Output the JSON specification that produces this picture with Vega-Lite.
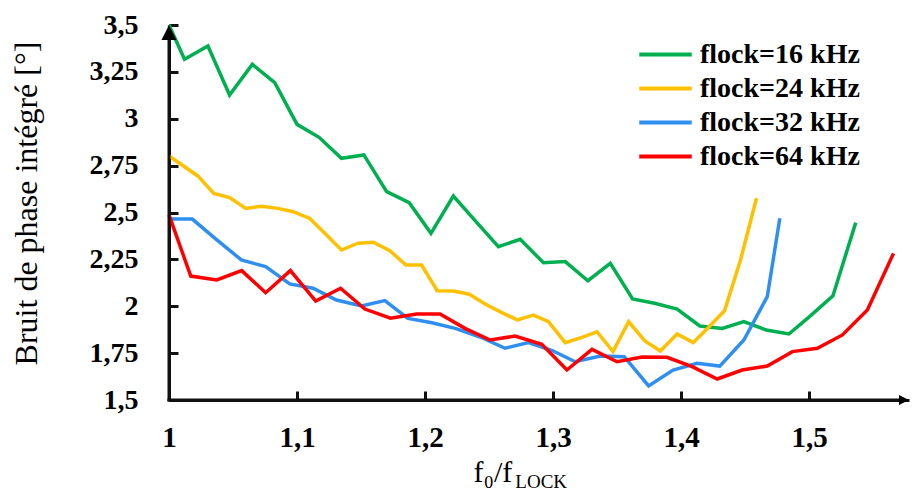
{
  "$schema": "https://vega.github.io/schema/vega-lite/v6.json",
  "width": 740,
  "height": 375,
  "autosize": {"type": "none"},
  "padding": {"left": 169, "top": 25, "right": 4, "bottom": 93},
  "background": "white",
  "config": {
    "view": {"stroke": null},
    "axis": {
      "grid": false,
      "labelFlush": false,
      "labelFont": "Liberation Serif",
      "labelFontWeight": "bold",
      "labelColor": "black",
      "titleFont": "Liberation Serif",
      "titleFontWeight": "normal",
      "titleColor": "black",
      "domain": true,
      "domainColor": "#111111",
      "domainWidth": 3,
      "ticks": true,
      "tickColor": "#111111",
      "tickWidth": 3,
      "tickSize": -9
    }
  },
  "datasets": {
    "series": [
      {"x": 1.000, "y": 3.500, "s": "flock=16 kHz"},
      {"x": 1.0121, "y": 3.317, "s": "flock=16 kHz"},
      {"x": 1.0304, "y": 3.388, "s": "flock=16 kHz"},
      {"x": 1.0473, "y": 3.127, "s": "flock=16 kHz"},
      {"x": 1.0651, "y": 3.290, "s": "flock=16 kHz"},
      {"x": 1.0826, "y": 3.192, "s": "flock=16 kHz"},
      {"x": 1.1000, "y": 2.970, "s": "flock=16 kHz"},
      {"x": 1.1172, "y": 2.901, "s": "flock=16 kHz"},
      {"x": 1.1347, "y": 2.789, "s": "flock=16 kHz"},
      {"x": 1.1522, "y": 2.807, "s": "flock=16 kHz"},
      {"x": 1.1700, "y": 2.611, "s": "flock=16 kHz"},
      {"x": 1.1876, "y": 2.552, "s": "flock=16 kHz"},
      {"x": 1.2046, "y": 2.389, "s": "flock=16 kHz"},
      {"x": 1.2221, "y": 2.588, "s": "flock=16 kHz"},
      {"x": 1.2398, "y": 2.451, "s": "flock=16 kHz"},
      {"x": 1.2573, "y": 2.318, "s": "flock=16 kHz"},
      {"x": 1.2743, "y": 2.357, "s": "flock=16 kHz"},
      {"x": 1.2925, "y": 2.232, "s": "flock=16 kHz"},
      {"x": 1.3095, "y": 2.238, "s": "flock=16 kHz"},
      {"x": 1.3272, "y": 2.136, "s": "flock=16 kHz"},
      {"x": 1.3447, "y": 2.229, "s": "flock=16 kHz"},
      {"x": 1.3621, "y": 2.039, "s": "flock=16 kHz"},
      {"x": 1.3793, "y": 2.016, "s": "flock=16 kHz"},
      {"x": 1.3969, "y": 1.985, "s": "flock=16 kHz"},
      {"x": 1.4146, "y": 1.895, "s": "flock=16 kHz"},
      {"x": 1.4321, "y": 1.882, "s": "flock=16 kHz"},
      {"x": 1.4490, "y": 1.918, "s": "flock=16 kHz"},
      {"x": 1.4665, "y": 1.873, "s": "flock=16 kHz"},
      {"x": 1.4842, "y": 1.852, "s": "flock=16 kHz"},
      {"x": 1.5012, "y": 1.950, "s": "flock=16 kHz"},
      {"x": 1.5186, "y": 2.056, "s": "flock=16 kHz"},
      {"x": 1.5364, "y": 2.446, "s": "flock=16 kHz"},

      {"x": 1.000, "y": 2.801, "s": "flock=24 kHz"},
      {"x": 1.0225, "y": 2.695, "s": "flock=24 kHz"},
      {"x": 1.0350, "y": 2.602, "s": "flock=24 kHz"},
      {"x": 1.0473, "y": 2.580, "s": "flock=24 kHz"},
      {"x": 1.0600, "y": 2.522, "s": "flock=24 kHz"},
      {"x": 1.0721, "y": 2.533, "s": "flock=24 kHz"},
      {"x": 1.0851, "y": 2.522, "s": "flock=24 kHz"},
      {"x": 1.0969, "y": 2.504, "s": "flock=24 kHz"},
      {"x": 1.1100, "y": 2.468, "s": "flock=24 kHz"},
      {"x": 1.1217, "y": 2.389, "s": "flock=24 kHz"},
      {"x": 1.1347, "y": 2.300, "s": "flock=24 kHz"},
      {"x": 1.1477, "y": 2.336, "s": "flock=24 kHz"},
      {"x": 1.1595, "y": 2.341, "s": "flock=24 kHz"},
      {"x": 1.1725, "y": 2.296, "s": "flock=24 kHz"},
      {"x": 1.1851, "y": 2.220, "s": "flock=24 kHz"},
      {"x": 1.1973, "y": 2.220, "s": "flock=24 kHz"},
      {"x": 1.2095, "y": 2.083, "s": "flock=24 kHz"},
      {"x": 1.2221, "y": 2.081, "s": "flock=24 kHz"},
      {"x": 1.2346, "y": 2.064, "s": "flock=24 kHz"},
      {"x": 1.2469, "y": 2.012, "s": "flock=24 kHz"},
      {"x": 1.2600, "y": 1.966, "s": "flock=24 kHz"},
      {"x": 1.2721, "y": 1.927, "s": "flock=24 kHz"},
      {"x": 1.2847, "y": 1.953, "s": "flock=24 kHz"},
      {"x": 1.2964, "y": 1.918, "s": "flock=24 kHz"},
      {"x": 1.3095, "y": 1.806, "s": "flock=24 kHz"},
      {"x": 1.3225, "y": 1.834, "s": "flock=24 kHz"},
      {"x": 1.3343, "y": 1.864, "s": "flock=24 kHz"},
      {"x": 1.3468, "y": 1.758, "s": "flock=24 kHz"},
      {"x": 1.3590, "y": 1.918, "s": "flock=24 kHz"},
      {"x": 1.3717, "y": 1.815, "s": "flock=24 kHz"},
      {"x": 1.3838, "y": 1.761, "s": "flock=24 kHz"},
      {"x": 1.3969, "y": 1.852, "s": "flock=24 kHz"},
      {"x": 1.4094, "y": 1.806, "s": "flock=24 kHz"},
      {"x": 1.4219, "y": 1.891, "s": "flock=24 kHz"},
      {"x": 1.4339, "y": 1.976, "s": "flock=24 kHz"},
      {"x": 1.4464, "y": 2.247, "s": "flock=24 kHz"},
      {"x": 1.4589, "y": 2.576, "s": "flock=24 kHz"},

      {"x": 1.000, "y": 2.465, "s": "flock=32 kHz"},
      {"x": 1.0182, "y": 2.465, "s": "flock=32 kHz"},
      {"x": 1.0369, "y": 2.357, "s": "flock=32 kHz"},
      {"x": 1.0565, "y": 2.247, "s": "flock=32 kHz"},
      {"x": 1.0755, "y": 2.211, "s": "flock=32 kHz"},
      {"x": 1.0943, "y": 2.119, "s": "flock=32 kHz"},
      {"x": 1.1125, "y": 2.096, "s": "flock=32 kHz"},
      {"x": 1.1308, "y": 2.033, "s": "flock=32 kHz"},
      {"x": 1.1504, "y": 2.001, "s": "flock=32 kHz"},
      {"x": 1.1686, "y": 2.030, "s": "flock=32 kHz"},
      {"x": 1.1866, "y": 1.935, "s": "flock=32 kHz"},
      {"x": 1.2054, "y": 1.912, "s": "flock=32 kHz"},
      {"x": 1.2242, "y": 1.881, "s": "flock=32 kHz"},
      {"x": 1.2430, "y": 1.836, "s": "flock=32 kHz"},
      {"x": 1.2625, "y": 1.776, "s": "flock=32 kHz"},
      {"x": 1.2808, "y": 1.806, "s": "flock=32 kHz"},
      {"x": 1.2993, "y": 1.764, "s": "flock=32 kHz"},
      {"x": 1.3173, "y": 1.704, "s": "flock=32 kHz"},
      {"x": 1.3369, "y": 1.735, "s": "flock=32 kHz"},
      {"x": 1.3556, "y": 1.731, "s": "flock=32 kHz"},
      {"x": 1.3746, "y": 1.575, "s": "flock=32 kHz"},
      {"x": 1.3937, "y": 1.660, "s": "flock=32 kHz"},
      {"x": 1.4125, "y": 1.696, "s": "flock=32 kHz"},
      {"x": 1.4302, "y": 1.681, "s": "flock=32 kHz"},
      {"x": 1.4490, "y": 1.820, "s": "flock=32 kHz"},
      {"x": 1.4673, "y": 2.051, "s": "flock=32 kHz"},
      {"x": 1.4771, "y": 2.469, "s": "flock=32 kHz"},

      {"x": 1.000, "y": 2.487, "s": "flock=64 kHz"},
      {"x": 1.0170, "y": 2.161, "s": "flock=64 kHz"},
      {"x": 1.0373, "y": 2.140, "s": "flock=64 kHz"},
      {"x": 1.0568, "y": 2.190, "s": "flock=64 kHz"},
      {"x": 1.0755, "y": 2.072, "s": "flock=64 kHz"},
      {"x": 1.0948, "y": 2.190, "s": "flock=64 kHz"},
      {"x": 1.1146, "y": 2.028, "s": "flock=64 kHz"},
      {"x": 1.1340, "y": 2.096, "s": "flock=64 kHz"},
      {"x": 1.1530, "y": 1.985, "s": "flock=64 kHz"},
      {"x": 1.1730, "y": 1.936, "s": "flock=64 kHz"},
      {"x": 1.1934, "y": 1.959, "s": "flock=64 kHz"},
      {"x": 1.2117, "y": 1.959, "s": "flock=64 kHz"},
      {"x": 1.2312, "y": 1.882, "s": "flock=64 kHz"},
      {"x": 1.2508, "y": 1.820, "s": "flock=64 kHz"},
      {"x": 1.2703, "y": 1.841, "s": "flock=64 kHz"},
      {"x": 1.2912, "y": 1.797, "s": "flock=64 kHz"},
      {"x": 1.3108, "y": 1.660, "s": "flock=64 kHz"},
      {"x": 1.3304, "y": 1.770, "s": "flock=64 kHz"},
      {"x": 1.3500, "y": 1.704, "s": "flock=64 kHz"},
      {"x": 1.3695, "y": 1.729, "s": "flock=64 kHz"},
      {"x": 1.3890, "y": 1.728, "s": "flock=64 kHz"},
      {"x": 1.4086, "y": 1.678, "s": "flock=64 kHz"},
      {"x": 1.4282, "y": 1.612, "s": "flock=64 kHz"},
      {"x": 1.4477, "y": 1.660, "s": "flock=64 kHz"},
      {"x": 1.4673, "y": 1.681, "s": "flock=64 kHz"},
      {"x": 1.4869, "y": 1.758, "s": "flock=64 kHz"},
      {"x": 1.5064, "y": 1.776, "s": "flock=64 kHz"},
      {"x": 1.5260, "y": 1.847, "s": "flock=64 kHz"},
      {"x": 1.5455, "y": 1.980, "s": "flock=64 kHz"},
      {"x": 1.5659, "y": 2.282, "s": "flock=64 kHz"}
    ],
    "axes": [
      {"x": 1, "y": 1.492, "g": "yaxis"}, {"x": 1, "y": 3.44, "g": "yaxis"},
      {"x": 0.9988, "y": 1.5, "g": "xaxis"}, {"x": 1.572, "y": 1.5, "g": "xaxis"}
    ]
  },
  "layer": [
    {
      "data": {"name": "series"},
      "mark": {"type": "line", "strokeWidth": 3.5, "strokeJoin": "miter"},
      "encoding": {
        "x": {
          "field": "x", "type": "quantitative",
          "scale": {"domain": [1, 1.578], "nice": false, "zero": false},
          "axis": {
            "values": [1, 1.1, 1.2, 1.3, 1.4, 1.5],
            "labelExpr": "replace(format(datum.value, '.2~f'), '.', ',')",
            "labelFontSize": 29,
            "labelPadding": 32,
            "title": "f₀/f",
            "titleFontSize": 30,
            "titleX": 304,
            "titleY": 81,
            "titleAlign": "left",
            "titleBaseline": "alphabetic"
          }
        },
        "y": {
          "field": "y", "type": "quantitative",
          "scale": {"domain": [1.5, 3.5], "nice": false, "zero": false},
          "axis": {
            "values": [1.5, 1.75, 2, 2.25, 2.5, 2.75, 3, 3.25, 3.5],
            "labelExpr": "replace(format(datum.value, '.2~f'), '.', ',')",
            "labelFontSize": 28,
            "labelPadding": 40,
            "title": "Bruit de phase intégré [°]",
            "titleFontSize": 32,
            "titleX": -126,
            "titleY": 178
          }
        },
        "color": {
          "field": "s", "type": "nominal",
          "scale": {
            "domain": ["flock=16 kHz", "flock=24 kHz", "flock=32 kHz", "flock=64 kHz"],
            "range": ["#00B050", "#FFC000", "#2F8FF0", "#FF0000"]
          },
          "legend": {
            "title": null,
            "orient": "none",
            "legendX": 477,
            "legendY": 10,
            "padding": 0,
            "symbolType": "M-1.5,0L1.5,0",
            "symbolSize": 1225,
            "symbolStrokeWidth": 4,
            "labelFont": "Liberation Serif",
            "labelFontWeight": "bold",
            "labelFontSize": 28,
            "labelColor": "black",
            "labelOffset": 15,
            "rowPadding": 0,
            "labelLimit": 400
          }
        }
      }
    },
    {
      "data": {"name": "axes"},
      "mark": {"type": "line", "color": "#111111", "strokeWidth": 3, "strokeCap": "butt"},
      "encoding": {
        "x": {"field": "x", "type": "quantitative"},
        "y": {"field": "y", "type": "quantitative"},
        "detail": {"field": "g", "type": "nominal"}
      }
    },
    {
      "data": {"values": [{}]},
      "mark": {"type": "point", "shape": "M0,0L-0.5,1L0.5,1Z", "size": 900, "filled": true, "color": "black", "opacity": 1},
      "encoding": {"x": {"datum": 1}, "y": {"datum": 3.5}}
    },
    {
      "data": {"values": [{}]},
      "mark": {"type": "point", "shape": "M0,0L-1,-0.5L-1,0.5Z", "size": 400, "filled": true, "color": "black", "opacity": 1},
      "encoding": {"x": {"datum": 1.578}, "y": {"datum": 1.5}}
    },
    {
      "data": {"values": [{}]},
      "mark": {"type": "text", "text": "LOCK", "font": "Liberation Serif", "fontSize": 19, "align": "left", "baseline": "alphabetic", "dy": 88, "color": "black"},
      "encoding": {"x": {"datum": 1.2705}, "y": {"datum": 1.5}}
    }
  ]
}
